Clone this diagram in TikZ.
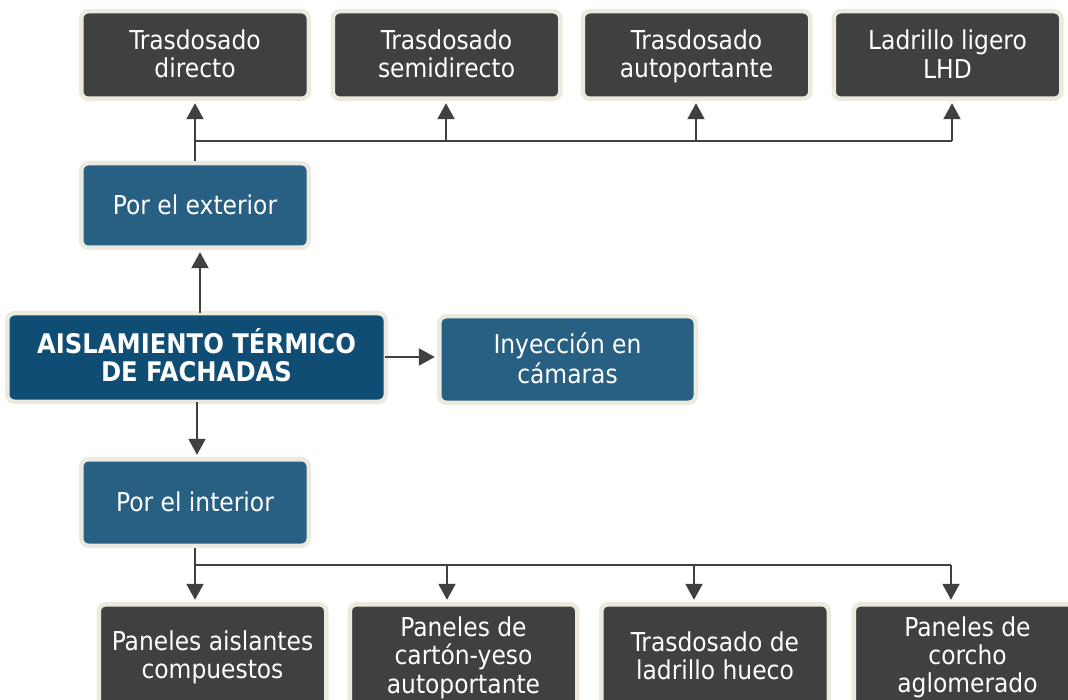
\documentclass[tikz,border=0pt]{standalone}
\usepackage{fontspec}
\setmainfont{DejaVu Sans Condensed}
\usetikzlibrary{arrows.meta}
\definecolor{leaf}{HTML}{404040}
\definecolor{mid}{HTML}{286083}
\definecolor{rootc}{HTML}{0F4D75}
\definecolor{cream}{HTML}{ECEADF}
\definecolor{conn}{HTML}{404040}
\newcommand\mystr{\rule[-5pt]{0pt}{28pt}}
\tikzset{
  box/.style={draw=cream, line width=4.5pt, rounded corners=7pt, text=white,
    align=center, inner sep=0pt, font=\fontsize{26}{28}\selectfont},
  leafbox/.style={box, fill=leaf, minimum width=227.5pt},
  midbox/.style={box, fill=mid},
  rootbox/.style={box, fill=rootc, font=\fontsize{27}{28}\bfseries\selectfont},
  conline/.style={draw=conn, line width=2pt},
  arr/.style={conline, -{Triangle[width=17pt,length=16pt]}, shorten >=2.2pt},
}
\begin{document}
\begin{tikzpicture}[x=1pt,y=-1pt]
\useasboundingbox (0,0) rectangle (1068,700);
\begin{scope}
\clip (0,0) rectangle (1068,700);
% top leaves
\node[leafbox, minimum height=87.5pt] (t1) at (195,55) {\mystr Trasdosado\\directo\mystr};
\node[leafbox, minimum height=87.5pt] (t2) at (446.5,55) {\mystr Trasdosado\\semidirecto\mystr};
\node[leafbox, minimum height=87.5pt] (t3) at (696.5,55) {\mystr Trasdosado\\autoportante\mystr};
\node[leafbox, minimum height=87.5pt] (t4) at (947.5,55) {\mystr Ladrillo ligero\\LHD\mystr};
% mid
\node[midbox, minimum width=227.5pt, minimum height=84.5pt] (ext) at (195,205.5) {\mystr Por el exterior};
\node[rootbox, minimum width=378.5pt, minimum height=88.5pt] (root) at (196.5,357.5) {\mystr AISLAMIENTO TÉRMICO\\DE FACHADAS\mystr};
\node[midbox, minimum width=256.5pt, minimum height=86.5pt] (iny) at (567.5,359.5) {\mystr Inyección en\\cámaras\mystr};
\node[midbox, minimum width=227.5pt, minimum height=86.5pt] (int) at (195,502.5) {\mystr Por el interior};
% bottom leaves
\node[leafbox, minimum height=103.5pt] (b1) at (212.5,656) {\mystr Paneles aislantes\\compuestos\mystr};
\node[leafbox, minimum height=103.5pt] (b2) at (463.5,656) {\mystr Paneles de\\cartón-yeso\\autoportante\mystr};
\node[leafbox, minimum height=103.5pt] (b3) at (715,656) {\mystr Trasdosado de\\ladrillo hueco\mystr};
\node[leafbox, minimum height=103.5pt] (b4) at (967.5,656) {\mystr Paneles de\\corcho\\aglomerado\mystr};
\end{scope}
% top connectors
\coordinate (tbL) at (195,141);
\coordinate (tb2) at (446,141);
\coordinate (tb3) at (696,141);
\coordinate (tb4) at (952,141);
\draw[arr] (ext.north) -- (t1.south);
\draw[conline] (tbL) -- (tb4);
\draw[arr] (tb2) -- (tb2 |- t2.south);
\draw[arr] (tb3) -- (tb3 |- t3.south);
\draw[arr] (tb4) -- (tb4 |- t4.south);
% root connectors
\coordinate (rU) at (200,313);
\draw[arr] (rU) -- (rU |- ext.south);
\coordinate (rD) at (197,402);
\draw[arr] (rD) -- (rD |- int.north);
\coordinate (rR) at (385,357);
\draw[arr] (rR) -- (rR -| iny.west);
% bottom connectors
\coordinate (bbL) at (195,565);
\coordinate (bb2) at (447,565);
\coordinate (bb3) at (694,565);
\coordinate (bb4) at (951,565);
\draw[conline] (int.south) -- (bbL) -- (bb4);
\draw[arr] (bbL) -- (bbL |- b1.north);
\draw[arr] (bb2) -- (bb2 |- b2.north);
\draw[arr] (bb3) -- (bb3 |- b3.north);
\draw[arr] (bb4) -- (bb4 |- b4.north);
\end{tikzpicture}
\end{document}
